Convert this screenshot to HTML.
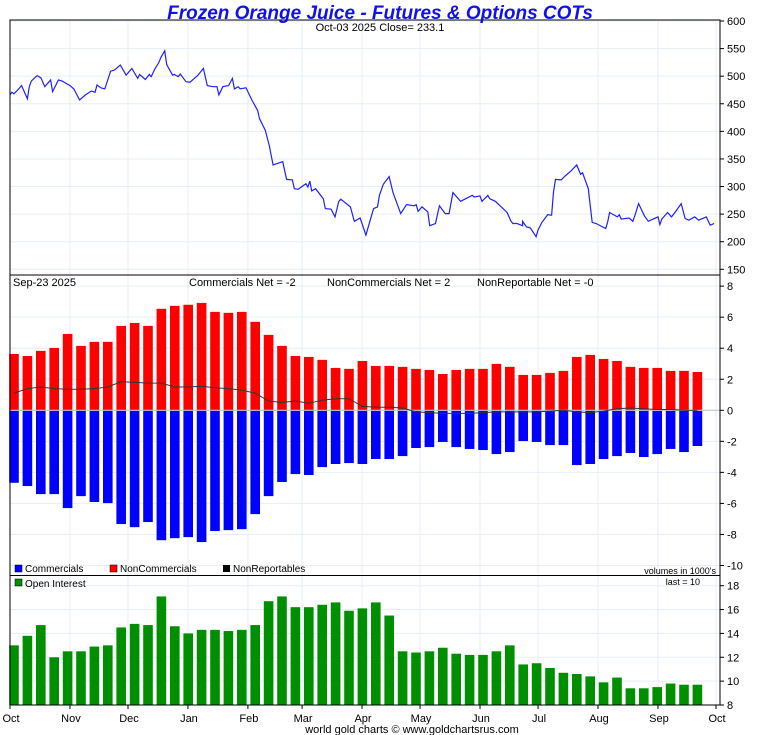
<!DOCTYPE html>
<html><head><meta charset="utf-8"><style>
html,body{margin:0;padding:0;background:#fff;}
svg{display:block;font-family:"Liberation Sans",sans-serif;}
</style></head><body>
<svg id="c" width="760" height="735" xmlns="http://www.w3.org/2000/svg"></svg>
<script>
// ---- data ----
const priceDays=[0,1,2,4,6,7,9,10,11,14,16,18,21,22,25,27,29,31,33,36,39,42,44,45,47,49,52,54,57,60,63,66,67,70,72,73,75,77,78,80,81,84,85,87,88,91,93,95,97,100,102,105,107,108,110,113,115,116,118,119,122,125,128,129,132,134,136,141,143,146,147,149,153,154,155,156,158,162,163,166,168,170,171,176,178,181,182,184,188,190,191,193,196,197,198,202,205,209,210,211,213,216,217,220,222,225,227,229,233,234,239,240,243,244,247,248,251,254,257,259,260,262,265,265,267,269,272,273,275,278,280,281,282,285,287,290,293,295,296,299,301,303,308,309,310,314,315,316,320,322,323,325,328,330,335,336,337,340,342,344,347,349,351,354,356,360,362,364,366];
const priceVals=[466,471,468,475,483,475,459,481,491,501,497,481,493,472,493,491,487,483,477,457,466,473,471,484,479,477,509,511,520,502,514,496,503,494,503,499,514,525,534,546,521,502,503,499,504,490,489,495,501,514,483,481,481,466,481,483,496,477,481,477,479,457,438,423,402,375,339,345,313,312,296,295,305,299,310,292,296,278,260,259,245,273,277,263,237,243,233,212,260,263,284,304,318,304,289,251,267,265,267,255,263,254,229,233,265,251,251,289,273,275,284,281,283,273,284,278,273,263,253,237,233,233,229,237,227,225,209,221,235,249,248,290,313,312,319,328,339,322,325,296,235,233,224,236,253,245,249,241,243,237,247,269,247,237,245,231,241,253,245,254,269,242,239,245,239,245,230,233];
const monthLabels=["Oct","Nov","Dec","Jan","Feb","Mar","Apr","May","Jun","Jul","Aug","Sep","Oct"];
const monthDays=[0,31,61,92,123,151,182,212,243,273,304,335,365];
const commercials=[-4.67,-4.88,-5.4,-5.4,-6.3,-5.53,-5.91,-5.98,-7.33,-7.53,-7.2,-8.37,-8.24,-8.17,-8.49,-7.78,-7.72,-7.66,-6.69,-5.53,-4.62,-4.11,-4.17,-3.66,-3.46,-3.4,-3.46,-3.14,-3.14,-2.95,-2.43,-2.37,-2.04,-2.37,-2.49,-2.56,-2.82,-2.69,-1.98,-2.04,-2.24,-2.24,-3.53,-3.46,-3.14,-2.95,-2.75,-3.01,-2.82,-2.49,-2.69,-2.3];
const nonCommercials=[3.63,3.5,3.83,4.02,4.92,4.15,4.41,4.41,5.44,5.63,5.44,6.54,6.73,6.8,6.92,6.34,6.28,6.34,5.7,4.86,4.15,3.5,3.44,3.25,2.73,2.67,3.18,2.86,2.86,2.8,2.67,2.6,2.34,2.6,2.67,2.67,2.99,2.8,2.28,2.28,2.41,2.54,3.44,3.57,3.31,3.18,2.8,2.73,2.73,2.54,2.54,2.47];
const nonReportables=[1.1,1.4,1.5,1.4,1.35,1.35,1.4,1.5,1.85,1.8,1.75,1.75,1.5,1.5,1.55,1.45,1.4,1.3,1.1,0.6,0.5,0.6,0.45,0.65,0.75,0.75,0.25,0.2,0.2,0.15,-0.1,-0.15,-0.2,-0.2,-0.2,-0.15,-0.1,-0.1,-0.1,-0.1,-0.05,0,-0.1,-0.15,-0.05,0.1,0.15,0.1,0.05,0.05,0,0];
const openInterest=[13.0,13.8,14.7,12.0,12.5,12.5,12.9,13.0,14.5,14.8,14.7,17.1,14.6,14.0,14.3,14.3,14.2,14.3,14.7,16.7,17.1,16.2,16.2,16.4,16.6,15.9,16.1,16.6,15.5,12.5,12.4,12.5,12.8,12.3,12.2,12.2,12.5,13.0,11.4,11.5,11.1,10.7,10.6,10.4,9.9,10.3,9.4,9.4,9.5,9.8,9.7,9.7];
const priceTicks=[600,550,500,450,400,350,300,250,200,150];
const cotTicks=[8,6,4,2,0,-2,-4,-6,-8,-10];
const oiTicks=[18,16,14,12,10,8];

// ---- scales ----
const L=10,R=720;
const xDay=d=>L+d*(706/365);
const xBar=i=>14+i*13.4;
const yPrice=v=>21+(600-v)*(248.3/450);
const yCot=v=>410.3-v*15.52;
const yOI=v=>705-(v-8)*11.93;
const svg=document.getElementById('c');
const NS='http://www.w3.org/2000/svg';
function mk(tag,attrs,parent){const e=document.createElementNS(NS,tag);for(const k in attrs)e.setAttribute(k,attrs[k]);(parent||svg).appendChild(e);return e;}
function txt(x,y,s,size,anchor,fill,parent){const t=mk('text',{x:x,y:y,'font-size':size,'text-anchor':anchor||'start',fill:fill||'#000'},parent);t.textContent=s;return t;}

// grid
const grid=mk('g',{});


monthDays.forEach(d=>{mk('line',{x1:xDay(d),x2:xDay(d),y1:20,y2:705,stroke:'#e3eff9','stroke-width':1},grid);});
priceTicks.forEach(v=>{mk('line',{x1:L,x2:R,y1:yPrice(v),y2:yPrice(v),stroke:'#e3eff9'},grid);});
cotTicks.forEach(v=>{mk('line',{x1:L,x2:R,y1:yCot(v),y2:yCot(v),stroke:'#e3eff9'},grid);});
oiTicks.forEach(v=>{mk('line',{x1:L,x2:R,y1:yOI(v),y2:yOI(v),stroke:'#e3eff9'},grid);});

// price line
const pts=priceDays.map((d,i)=>xDay(d).toFixed(1)+','+yPrice(priceVals[i]).toFixed(1)).join(' ');
const pl=mk('polyline',{points:pts,fill:'none',stroke:'#2020ff','stroke-width':1.2});



// COT bars
const bw=9.6;
const gC=mk('g',{});


nonCommercials.forEach((v,i)=>{
  const r=mk('rect',{x:xBar(i)-bw/2,y:yCot(v),width:bw,height:yCot(0)-yCot(v),fill:'#ff0000'},gC);
  
  
});
commercials.forEach((v,i)=>{
  const r=mk('rect',{x:xBar(i)-bw/2,y:yCot(0),width:bw,height:yCot(v)-yCot(0),fill:'#0000ff'},gC);
  
  
});
mk('line',{x1:L,x2:R,y1:yCot(0),y2:yCot(0),stroke:'#c8c8c8','stroke-width':1.2});
const nr=mk('polyline',{points:nonReportables.map((v,i)=>xBar(i).toFixed(1)+','+yCot(v).toFixed(1)).join(' '),fill:'none',stroke:'#333','stroke-width':1});



// OI bars
const gO=mk('g',{});


openInterest.forEach((v,i)=>{
  const r=mk('rect',{x:xBar(i)-bw/2,y:yOI(v),width:bw,height:yOI(8)-yOI(v),fill:'#008f00'},gO);
  
  
});

// frames
mk('rect',{x:L,y:20,width:R-L,height:685,fill:'none',stroke:'#000','stroke-width':1});
mk('line',{x1:L,x2:R,y1:275,y2:275,stroke:'#000'});
mk('line',{x1:L,x2:R,y1:575.5,y2:575.5,stroke:'#000'});

// right axes
const ax=mk('g',{});


priceTicks.forEach(v=>{mk('line',{x1:R,x2:R+4,y1:yPrice(v),y2:yPrice(v),stroke:'#000'},ax);txt(R+7,yPrice(v)+4,String(v),11,'start','#000',ax);});
cotTicks.forEach(v=>{mk('line',{x1:R,x2:R+4,y1:yCot(v),y2:yCot(v),stroke:'#000'},ax);txt(R+7,yCot(v)+4,String(v),11,'start','#000',ax);});
oiTicks.forEach(v=>{mk('line',{x1:R,x2:R+4,y1:yOI(v),y2:yOI(v),stroke:'#000'},ax);txt(R+7,yOI(v)+4,String(v),11,'start','#000',ax);});
// month labels
const xa=mk('g',{});


monthLabels.forEach((m,i)=>{const x=xDay(monthDays[i]);mk('line',{x1:x,x2:x,y1:705,y2:709,stroke:'#000'},xa);txt(x+1,722,m,11,'middle','#000',xa);});
</script>
<svg width="760" height="735" style="position:absolute;left:0;top:0" font-family="Liberation Sans, sans-serif">
<text x="380" y="19" font-size="19" font-weight="bold" font-style="italic" fill="#1010ee" text-anchor="middle">Frozen Orange Juice - Futures &amp; Options COTs</text>
<text x="380" y="31" font-size="11" text-anchor="middle">Oct-03  2025   Close= 233.1</text>
<text x="13" y="286" font-size="11">Sep-23  2025</text>
<text x="189" y="286" font-size="11">Commercials Net = -2</text>
<text x="327" y="286" font-size="11">NonCommercials Net = 2</text>
<text x="477" y="286" font-size="11">NonReportable Net = -0</text>
<g>
<rect x="15" y="565" width="7" height="7" fill="#0000ff" stroke="#000" stroke-width="0.5"/><text x="25" y="572" font-size="10">Commercials</text>
<rect x="110" y="565" width="7" height="7" fill="#ff0000" stroke="#000" stroke-width="0.5"/><text x="120" y="572" font-size="10">NonCommercials</text>
<rect x="223" y="565" width="7" height="7" fill="#000"/><text x="233" y="572" font-size="10">NonReportables</text>
</g>
<text x="716" y="574" font-size="9" text-anchor="end">volumes in 1000's</text>
<g><rect x="15" y="579" width="7" height="7" fill="#008f00" stroke="#000" stroke-width="0.5"/><text x="25" y="587" font-size="10">Open Interest</text></g>
<text x="700" y="585" font-size="9" text-anchor="end">last = 10</text>
<text x="412" y="733" font-size="11" text-anchor="middle">world gold charts © www.goldchartsrus.com</text>
</svg>
</body></html>
